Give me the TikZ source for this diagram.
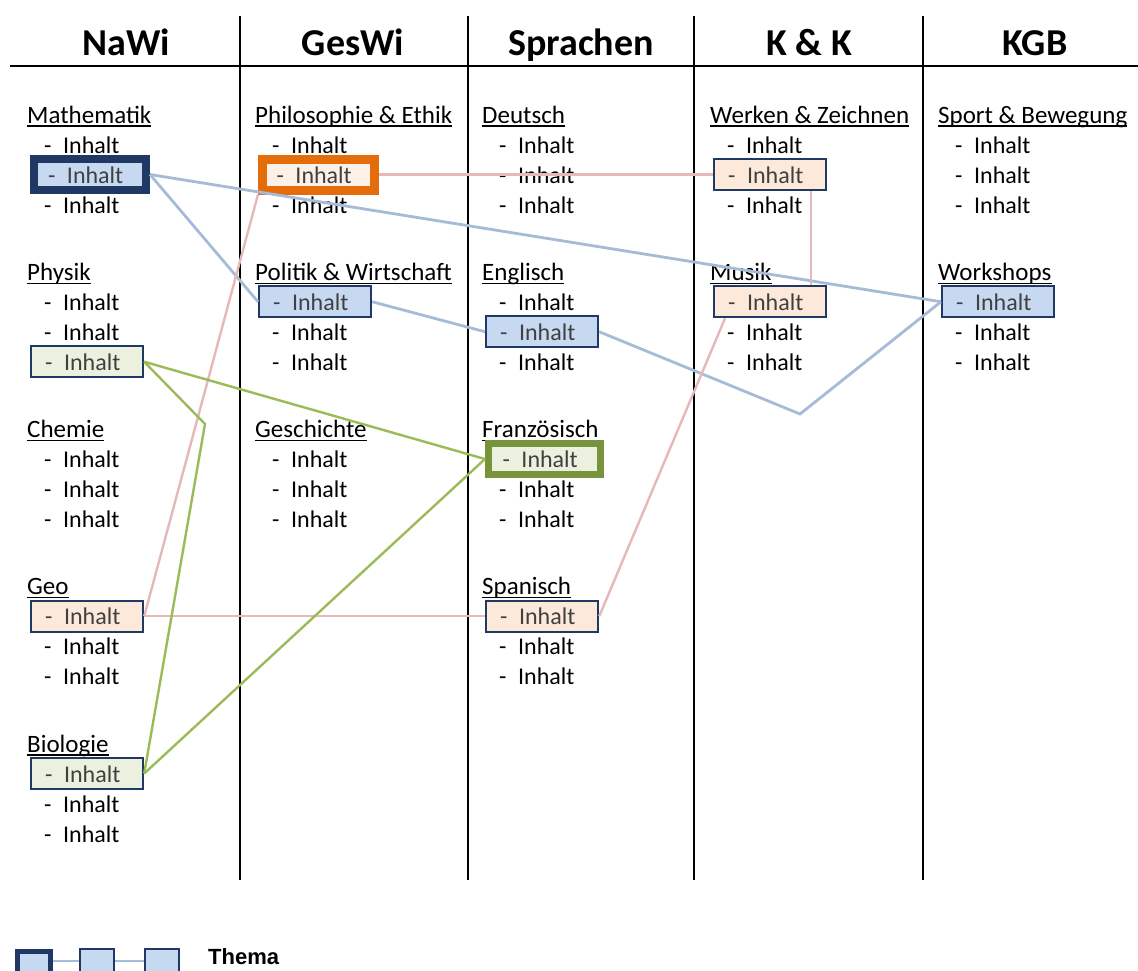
\documentclass[tikz,border=0pt]{standalone}
\usepackage{fontspec}
\setmainfont{Carlito}
\newfontfamily\legfont{Liberation Sans}
\usetikzlibrary{calc}
\definecolor{navy}{HTML}{1F3864}
\definecolor{bluefill}{HTML}{C6D9F1}
\definecolor{peachfill}{HTML}{FDE9D9}
\definecolor{peachlight}{HTML}{FDF0E6}
\definecolor{greenfill}{HTML}{EBF1DE}
\definecolor{orangeline}{HTML}{E46C0A}
\definecolor{greenline}{HTML}{77933C}
\definecolor{blueconn}{HTML}{A6BBD8}
\definecolor{pinkconn}{HTML}{E6B9B8}
\definecolor{greenconn}{HTML}{9BBB59}
\newcommand\entrytext{\makebox[19pt][l]{-}Inhalt}
\newcommand\fach[7]{%
  \node[subj] (#1) at (#2,{123+157.25*#3}) {#4};
  \draw[uline] ([yshift=-3pt]#1.base west) -- ([yshift=-3pt]#1.base east);
  \node[entry,#5] (#1-1) at ({#2+3},{123+157.25*#3+21.5}) {\entrytext};
  \node[entry,#6] (#1-2) at ({#2+3},{123+157.25*#3+51.5}) {\entrytext};
  \node[entry,#7] (#1-3) at ({#2+3},{123+157.25*#3+81.5}) {\entrytext};
}
\begin{document}
\begin{tikzpicture}[x=1pt,y=-1pt,
  hdr/.style={anchor=base,inner sep=0pt,font=\fontsize{38}{46}\selectfont\bfseries},
  subj/.style={anchor=base west,inner sep=0pt,font=\fontsize{25}{30}\selectfont},
  uline/.style={line width=1.3pt},
  rulel/.style={line width=1.3pt},
  entry/.style={anchor=west,inner xsep=14pt,inner ysep=0pt,text width=84pt,align=left,
    text height=17pt,text depth=0pt,minimum height=31pt,font=\fontsize{24}{29}\selectfont},
  hl/.style={draw=navy,line width=2.2pt,text=black!75},
  bluebox/.style={hl,fill=bluefill},
  peachbox/.style={hl,fill=peachfill},
  greenbox/.style={hl,fill=greenfill},
  mathbox/.style={draw=navy,line width=8pt,fill=bluefill,text=black!75},
  orangebox/.style={draw=orangeline,line width=9pt,fill=peachlight,text=black!75},
  frbox/.style={draw=greenline,line width=7pt,fill=greenfill,text=black!75},
  bl/.style={draw=blueconn,line width=2.8pt},
  pk/.style={draw=pinkconn,line width=2.4pt},
  gr/.style={draw=greenconn,line width=2.4pt},
  legthick/.style={draw=navy,line width=5pt,fill=bluefill,minimum width=33pt,minimum height=24pt,inner sep=0pt},
  legthin/.style={draw=navy,line width=2.2pt,fill=bluefill,minimum width=34pt,minimum height=24pt,inner sep=0pt},
]
\useasboundingbox (0,0) rectangle (1138,970);
\clip (0,0) rectangle (1138,970);
\fill[white] (0,0) rectangle (1138,970);

% table rules
\draw[rulel] (10,66) -- (1138,66);
\foreach \xx in {240,468,694,923} \draw[rulel] (\xx,16) -- (\xx,880);

% headers
\node[hdr] (hNaWi) at (126,55) {NaWi};
\node[hdr] (hGesWi) at (353,55) {GesWi};
\node[hdr] (hSpr) at (581,55) {Sprachen};
\node[hdr] (hKK) at (809,55) {K \& K};
\node[hdr] (hKGB) at (1035,55) {KGB};

% NaWi
\fach{Math}{27}{0}{Mathematik}{}{mathbox}{}
\fach{Phys}{27}{1}{Physik}{}{}{greenbox}
\fach{Chem}{27}{2}{Chemie}{}{}{}
\fach{Geo}{27}{3}{Geo}{peachbox}{}{}
\fach{Bio}{27}{4}{Biologie}{greenbox}{}{}
% GesWi
\fach{Phil}{255}{0}{Philosophie \& Ethik}{}{orangebox}{}
\fach{Pol}{255}{1}{Politik \& Wirtschaft}{bluebox}{}{}
\fach{Gesch}{255}{2}{Geschichte}{}{}{}
% Sprachen
\fach{Deu}{482}{0}{Deutsch}{}{}{}
\fach{Eng}{482}{1}{Englisch}{}{bluebox}{}
\fach{Fr}{482}{2}{Französisch}{frbox}{}{}
\fach{Span}{482}{3}{Spanisch}{peachbox}{}{}
% K & K
\fach{Werk}{710}{0}{Werken \& Zeichnen}{}{peachbox}{}
\fach{Mus}{710}{1}{Musik}{peachbox}{}{}
% KGB
\fach{Sport}{938}{0}{Sport \& Bewegung}{}{}{}
\fach{Work}{938}{1}{Workshops}{bluebox}{}{}

% connectors
\coordinate (bv) at (800,414);
\coordinate (gv) at (205,424);
\draw[bl] (Math-2.east) -- (Work-1.west);
\draw[bl] (Math-2.east) -- (Pol-1.west);
\draw[bl] (Pol-1.east) -- (Eng-2.west);
\draw[bl] (Eng-2.east) -- (bv) -- (Work-1.west);
\draw[pk] (Phil-2.east) -- (Werk-2.west);
\draw[pk] ([xshift=41pt]Werk-2.south) -- ([xshift=41pt]Mus-1.north);
\draw[pk] (Geo-1.east) -- (Phil-2.south west);
\draw[pk] (Geo-1.east) -- (Span-1.west);
\draw[pk] (Span-1.east) -- ([xshift=12pt]Mus-1.south west);
\draw[gr] (Phys-3.east) -- (Fr-1.west);
\draw[gr] (Phys-3.east) -- (gv) -- (Bio-1.east);
\draw[gr] (Bio-1.east) -- (Fr-1.west);

% legend
\node[legthick] (L1) at (34,963.5) {};
\node[legthin] (L2) at (97,961) {};
\node[legthin] (L3) at (162,961) {};
\draw[bl] (L1.east |- L2.west) -- (L2.west);
\draw[bl] (L2.east) -- (L3.west);
\node[anchor=base west,inner sep=0pt,font=\legfont\fontsize{22}{26}\selectfont\bfseries] (thema) at (208,964) {Thema};
\end{tikzpicture}
\end{document}
